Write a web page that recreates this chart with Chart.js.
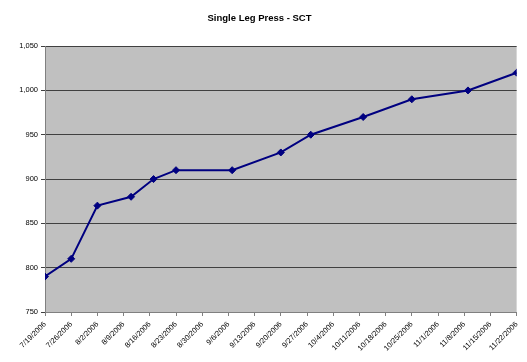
<!DOCTYPE html>
<html>
<head>
<meta charset="utf-8">
<script src="https://cdn.jsdelivr.net/npm/chart.js@4"></script>
<style>
  html,body{margin:0;padding:0;background:#fff;}
  #wrap{width:527px;height:362px;}
</style>
</head>
<body>
<div id="wrap"><canvas id="chart_slp" width="527" height="362"></canvas></div>
<script>
// ---------- data ----------
const testDates = ['7/19/2006','7/26/2006','8/2/2006','8/11/2006','8/17/2006','8/23/2006','9/7/2006',
  '9/20/2006','9/28/2006','10/12/2006','10/25/2006','11/9/2006','11/22/2006'];
const pressValues = [790, 810, 870, 880, 900, 910, 910, 930, 950, 970, 990, 1000, 1020];
const weekLabels = ['7/19/2006','7/26/2006','8/2/2006','8/9/2006','8/16/2006','8/23/2006','8/30/2006',
  '9/6/2006','9/13/2006','9/20/2006','9/27/2006','10/4/2006','10/11/2006','10/18/2006','10/25/2006',
  '11/1/2006','11/8/2006','11/15/2006','11/22/2006'];

// days since first week label
function dayNum(s){
  const [m,d,y]=s.split('/').map(Number);
  const [m0,d0,y0]=weekLabels[0].split('/').map(Number);
  return Math.round((Date.UTC(y,m-1,d)-Date.UTC(y0,m0-1,d0))/864e5);
}
const points=testDates.map((s,i)=>({x:dayNum(s),y:pressValues[i]}));

// gray plot area like the old excel charts
const plotBg={
  id:'plotBg',
  beforeDraw(chart){
    const {ctx,chartArea:a}=chart;
    ctx.save();
    ctx.fillStyle='#C0C0C0';
    ctx.fillRect(a.left,a.top,a.right-a.left,a.bottom-a.top);
    ctx.restore();
  }
};

const FONT='"Liberation Sans", Arial, sans-serif';
const ctx=document.getElementById('chart_slp').getContext('2d');
new Chart(ctx,{
  type:'line',
  data:{datasets:[{
    label:'Single Leg Press',
    data:points,
    borderColor:'#000080',backgroundColor:'#000080',
    borderWidth:2,pointStyle:'rectRot',pointRadius:3.5,pointBorderWidth:1,
    tension:0
  }]},
  options:{
    animation:false,responsive:false,
    layout:{padding:{left:0,right:8,top:0,bottom:0}},
    scales:{
      x:{type:'linear',min:0,max:126,
        grid:{drawOnChartArea:false,tickLength:4,color:'#808080'},
        border:{color:'#808080'},
        afterFit:(s)=>{s.height=50;},
        ticks:{stepSize:7,autoSkip:false,minRotation:45,maxRotation:45,padding:4,color:'#000',
          font:{family:FONT,size:7.5},
          callback:(v)=>weekLabels[Math.round(v/7)]||''}
      },
      y:{min:750,max:1050,
        grid:{color:'#404040',tickLength:4,tickColor:'#404040'},
        border:{color:'#808080'},
        afterFit:(s)=>{s.width=45;},
        ticks:{stepSize:50,padding:3,color:'#000',font:{family:FONT,size:7.5},
          callback:(v)=>v.toLocaleString('en-US')}
      }
    },
    plugins:{
      legend:{display:false},
      tooltip:{enabled:false},
      title:{display:true,text:'Single Leg Press - SCT',color:'#000',
        font:{family:FONT,size:9.5,weight:'bold'},padding:{top:12.5,bottom:22.2}}
    }
  },
  plugins:[plotBg]
});
</script>
</body>
</html>
